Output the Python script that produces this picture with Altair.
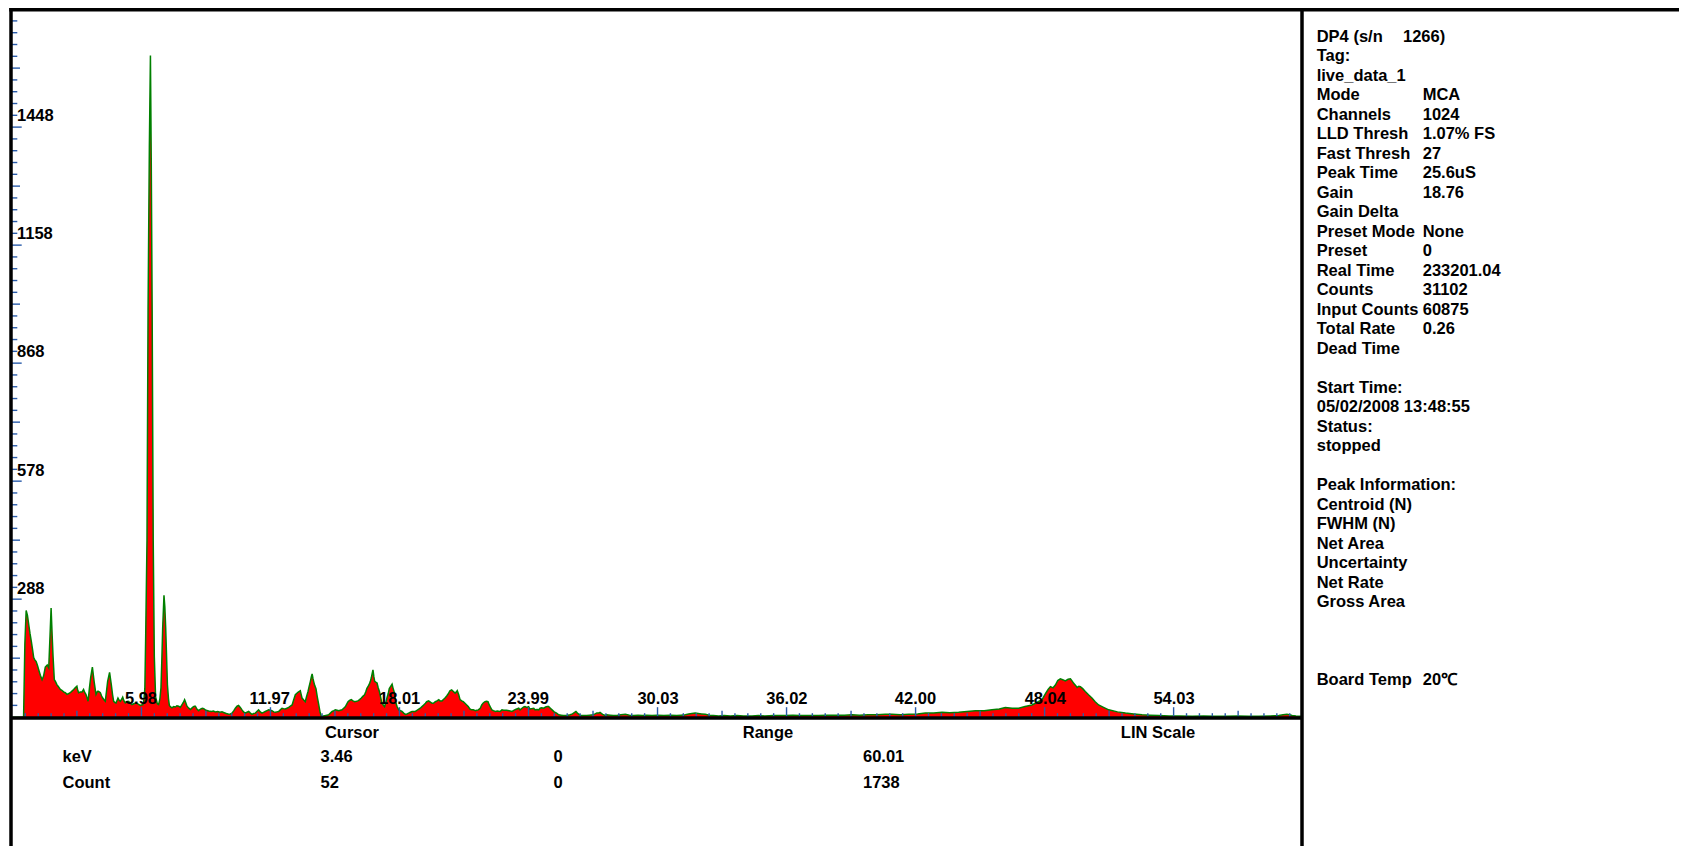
import altair as alt
import pandas as pd

# ---------------- spectrum (keV, counts) ----------------
kev = [0.00, 0.52, 0.58, 0.64, 0.70, 0.76, 0.82, 0.88, 0.94, 0.99, 1.05, 1.10, 1.16, 1.22, 1.30, 1.38, 1.45, 1.53, 1.62, 1.69,
       1.75, 1.80, 1.85, 1.89, 1.95, 2.00, 2.07, 2.15, 2.23, 2.30, 2.38, 2.46, 2.54, 2.62, 2.69, 2.77, 2.85, 2.92, 3.00, 3.04,
       3.08, 3.16, 3.24, 3.31, 3.37, 3.42, 3.47, 3.52, 3.58, 3.64, 3.72, 3.80, 3.86, 3.89, 3.94, 3.98, 4.04, 4.09, 4.15, 4.20,
       4.27, 4.32, 4.38, 4.43, 4.52, 4.60, 4.66, 4.71, 4.77, 4.82, 4.91, 4.96, 5.02, 5.08, 5.13, 5.19, 5.25, 5.33, 5.41, 5.48,
       5.56, 5.65, 5.75, 5.85, 5.95, 6.07, 6.12, 6.16, 6.20, 6.26, 6.31, 6.37, 6.42, 6.46, 6.50, 6.55, 6.60, 6.66, 6.74, 6.80,
       6.86, 6.91, 6.95, 6.99, 7.05, 7.09, 7.13, 7.17, 7.21, 7.26, 7.30, 7.36, 7.42, 7.50, 7.58, 7.65, 7.73, 7.81, 7.89, 7.95,
       8.01, 8.06, 8.12, 8.20, 8.28, 8.38, 8.46, 8.51, 8.58, 8.66, 8.75, 8.83, 8.90, 9.00, 9.13, 9.25, 9.35, 9.44, 9.55, 9.65,
       9.75, 9.85, 9.95, 10.06, 10.14, 10.21, 10.30, 10.37, 10.45, 10.52, 10.60, 10.68, 10.75, 10.83, 10.91, 10.99, 11.07, 11.14, 11.22, 11.30,
       11.37, 11.45, 11.53, 11.61, 11.68, 11.76, 11.84, 11.92, 12.00, 12.07, 12.15, 12.23, 12.30, 12.38, 12.46, 12.54, 12.61, 12.69, 12.77, 12.85,
       12.93, 13.01, 13.08, 13.16, 13.22, 13.28, 13.33, 13.39, 13.43, 13.47, 13.55, 13.62, 13.68, 13.75, 13.80, 13.86, 13.90, 13.94, 13.98, 14.01,
       14.06, 14.12, 14.18, 14.25, 14.31, 14.37, 14.46, 14.56, 14.63, 14.71, 14.79, 14.87, 14.95, 15.02, 15.10, 15.18, 15.25, 15.33, 15.41, 15.49,
       15.55, 15.61, 15.68, 15.76, 15.84, 15.92, 16.00, 16.07, 16.15, 16.23, 16.30, 16.38, 16.44, 16.49, 16.55, 16.60, 16.65, 16.69, 16.73, 16.77,
       16.81, 16.85, 16.90, 16.96, 17.01, 17.07, 17.13, 17.19, 17.25, 17.31, 17.37, 17.42, 17.48, 17.53, 17.60, 17.66, 17.70, 17.75, 17.80, 17.84,
       17.90, 17.97, 18.05, 18.12, 18.20, 18.28, 18.35, 18.43, 18.51, 18.59, 18.66, 18.74, 18.82, 18.90, 18.97, 19.05, 19.13, 19.21, 19.27, 19.36,
       19.44, 19.52, 19.58, 19.67, 19.75, 19.83, 19.89, 19.98, 20.06, 20.12, 20.20, 20.29, 20.35, 20.43, 20.51, 20.59, 20.65, 20.69, 20.76, 20.82,
       20.90, 20.97, 21.05, 21.13, 21.20, 21.28, 21.36, 21.44, 21.53, 21.60, 21.67, 21.76, 21.83, 21.90, 21.98, 22.05, 22.12, 22.18, 22.23, 22.30,
       22.37, 22.46, 22.55, 22.68, 22.77, 22.85, 22.99, 23.10, 23.24, 23.30, 23.40, 23.55, 23.61, 23.70, 23.78, 23.84, 23.92, 24.01, 24.07, 24.15,
       24.25, 24.31, 24.40, 24.48, 24.54, 24.62, 24.71, 24.80, 24.88, 24.94, 25.02, 25.10, 25.20, 25.31, 25.41, 25.52, 25.62, 25.72, 25.84, 25.94,
       26.05, 26.15, 26.21, 26.28, 26.35, 26.42, 26.55, 26.71, 26.85, 27.00, 27.10, 27.18, 27.27, 27.33, 27.45, 27.58, 27.64, 27.80, 27.95, 28.11,
       28.30, 28.51, 28.70, 28.90, 29.10, 29.30, 29.50, 29.75, 30.00, 30.30, 30.60, 30.90, 31.10, 31.30, 31.45, 31.60, 31.76, 31.90, 32.05, 32.23,
       32.40, 32.60, 32.85, 33.10, 33.40, 33.70, 34.00, 34.40, 34.70, 35.00, 35.40, 35.95, 36.30, 36.60, 37.00, 37.50, 37.90, 38.30, 38.70, 39.05,
       39.40, 39.80, 40.20, 40.60, 40.91, 41.30, 41.69, 42.10, 42.46, 42.85, 43.24, 43.60, 44.01, 44.40, 44.79, 45.20, 45.56, 45.90, 46.18, 46.50,
       46.80, 47.10, 47.42, 47.65, 47.89, 48.05, 48.17, 48.28, 48.40, 48.51, 48.62, 48.74, 48.85, 48.97, 49.10, 49.21, 49.30, 49.36, 49.45, 49.52,
       49.60, 49.67, 49.78, 49.90, 50.05, 50.21, 50.36, 50.52, 50.75, 50.99, 51.40, 51.77, 52.15, 52.54, 52.90, 53.32, 53.80, 54.30, 54.87, 55.40,
       55.90, 56.42, 57.00, 57.50, 57.97, 58.50, 58.90, 59.10, 59.28, 59.40, 59.52, 59.70, 59.98]
counts = [0, 0, 180, 262, 250, 227, 205, 186, 165, 146, 140, 137, 128, 117, 103, 92, 101, 123, 128, 121,
          200, 268, 200, 150, 92, 88, 80, 74, 68, 66, 62, 60, 56, 58, 60, 64, 68, 72, 76, 66,
          60, 62, 62, 68, 60, 56, 48, 39, 70, 97, 123, 88, 66, 56, 62, 64, 62, 60, 52, 47,
          42, 39, 65, 88, 110, 80, 55, 39, 36, 35, 47, 42, 39, 44, 49, 40, 35, 38, 39, 34,
          31, 33, 35, 32, 29, 31, 45, 70, 200, 433, 1000, 1400, 1624, 1350, 1000, 433, 150, 50, 33, 31,
          45, 72, 140, 219, 299, 270, 219, 150, 80, 45, 29, 25, 23, 26, 25, 28, 27, 24, 31, 36,
          43, 36, 27, 22, 19, 24, 27, 27, 20, 16, 20, 22, 21, 17, 15, 14, 15, 13, 14, 12,
          13, 11, 9, 7, 8, 10, 16, 22, 27, 29, 24, 18, 13, 10, 12, 14, 10, 7, 9, 10,
          14, 18, 13, 10, 12, 14, 16, 18, 17, 16, 13, 12, 13, 14, 18, 22, 21, 20, 22, 24,
          27, 30, 42, 55, 58, 61, 63, 65, 56, 47, 42, 38, 50, 63, 75, 88, 98, 106, 95, 88,
          78, 70, 50, 30, 12, 2, 3, 4, 5, 6, 10, 14, 16, 18, 17, 16, 17, 18, 22, 26,
          32, 38, 41, 43, 40, 38, 39, 40, 43, 47, 51, 55, 63, 71, 76, 81, 88, 96, 106, 116,
          100, 88, 86, 84, 73, 63, 48, 34, 30, 26, 36, 47, 58, 70, 76, 81, 72, 63, 48, 34,
          25, 18, 16, 14, 10, 7, 8, 10, 12, 14, 14, 14, 17, 20, 22, 26, 30, 34, 38, 40,
          37, 34, 34, 38, 40, 43, 40, 40, 44, 47, 52, 59, 65, 67, 63, 59, 62, 65, 55, 43,
          40, 38, 34, 30, 26, 20, 18, 18, 16, 17, 18, 22, 30, 35, 38, 39, 38, 30, 25, 18,
          16, 14, 15, 14, 18, 17, 17, 16, 14, 16, 19, 22, 18, 22, 25, 26, 24, 26, 20, 21,
          22, 18, 19, 18, 22, 23, 22, 25, 26, 26, 22, 18, 13, 10, 6, 5, 4, 4, 5, 6,
          8, 12, 14, 10, 7, 4, 4, 4, 5, 6, 8, 10, 10, 12, 7, 4, 6, 5, 4, 4,
          6, 7, 5, 4, 5, 4, 5, 4, 5, 4, 5, 4, 5, 6, 8, 9, 10, 9, 8, 7,
          5, 4, 3, 4, 3, 4, 3, 3, 4, 3, 4, 4, 5, 4, 4, 4, 5, 5, 5, 6,
          5, 6, 6, 7, 7, 6, 7, 8, 10, 10, 12, 11, 12, 14, 16, 16, 18, 20, 24, 22,
          22, 26, 30, 36, 43, 58, 68, 75, 72, 79, 90, 94, 92, 89, 93, 94, 88, 83, 78, 73,
          76, 75, 70, 63, 55, 47, 38, 30, 24, 18, 13, 10, 8, 6, 5, 4, 3, 3, 2, 3,
          2, 2, 3, 2, 2, 3, 4, 6, 7, 6, 4, 3, 2]

# axis labels drawn inside the plot
x_label_text = ["5.98", "11.97", "18.01", "23.99", "30.03", "36.02", "42.00", "48.04", "54.03"]
x_label_kev = [5.98, 11.97, 18.01, 23.99, 30.03, 36.02, 42.00, 48.04, 54.03]
y_label_vals = [288, 578, 868, 1158, 1448]

# instrument status panel
info_rows = [1, 2, 3, 4, 5, 6, 7, 8, 9, 10, 11, 12, 13, 14, 15, 16,
             18, 19, 20, 21, 23, 24, 25, 26, 27, 28, 29, 33]
info_labels = ["Tag:", "live_data_1", "Mode", "Channels", "LLD Thresh", "Fast Thresh", "Peak Time", "Gain",
               "Gain Delta", "Preset Mode", "Preset", "Real Time", "Counts", "Input Counts", "Total Rate", "Dead Time",
               "Start Time:", "05/02/2008 13:48:55", "Status:", "stopped", "Peak Information:", "Centroid (N)",
               "FWHM (N)", "Net Area", "Uncertainty", "Net Rate", "Gross Area", "Board Temp"]
info_values = ["", "", "MCA", "1024", "1.07% FS", "27", "25.6uS", "18.76",
               "", "None", "0", "233201.04", "31102", "60875", "0.26", "",
               "", "", "", "", "", "",
               "", "", "", "", "", "20\u2103"]
header_label = "DP4 (s/n"
header_value = "1266)"

# bottom readout panel
readout_names = ["keV", "Count"]
readout_cursor = ["3.46", "52"]
readout_mid = ["0", "0"]
readout_range = ["60.01", "1738"]
readout_headers = ["Cursor", "Range", "LIN Scale"]

# ---------------- layout (pixels inside the canvas; page origin is at 8,8) ----------------
FONT = "Liberation Sans"
FS = 16.5
BW = 3.5
W, H = 1671, 838
PX0, PX1 = 3, 1294          # plot left / right (frame lines)
PY0, PY1 = 1.75, 710        # plot top / bottom (frame lines)
X_DOM = [-0.065, 59.98]
Y_DOM = [-2, 1736]
TICK_COLOR = "#2a5caa"

xs = alt.Scale(domain=X_DOM, range=[PX0, PX1], nice=False, zero=False)
ys = alt.Scale(domain=Y_DOM, range=[PY1, PY0], nice=False, zero=False)
px_per_count = (PY1 - PY0) / (Y_DOM[1] - Y_DOM[0])
px_per_kev = (PX1 - PX0) / (X_DOM[1] - X_DOM[0])

spec_df = pd.DataFrame({"kev": kev, "count": counts})
area = alt.Chart(spec_df).mark_area(color="#ff0000", interpolate="linear").encode(
    x=alt.X("kev:Q", scale=xs, axis=None),
    y=alt.Y("count:Q", scale=ys, axis=None),
)
line = alt.Chart(spec_df).mark_line(color="#008000", strokeWidth=1.5, interpolate="linear").encode(
    x=alt.X("kev:Q", scale=xs, axis=None),
    y=alt.Y("count:Q", scale=ys, axis=None),
)

xt = []
for k in range(1, 100):
    ln = 10.0 if k % 10 == 0 else (6.5 if k % 5 == 0 else 4.0)
    xt.append({"kev": k * 60.01 / 100, "y0": 0.0, "y1": ln / px_per_count})
xt_df = pd.DataFrame(xt)
yt = []
for k in range(1, 60):
    ln = 10.7 if k % 10 == 0 else (9.0 if k % 5 == 0 else 6.3)
    yt.append({"val": k * 1448 / 50, "x0": X_DOM[0], "x1": X_DOM[0] + ln / px_per_kev})
yt_df = pd.DataFrame(yt)

xticks = alt.Chart(xt_df).mark_rule(color=TICK_COLOR, strokeWidth=1.4).encode(
    x=alt.X("kev:Q", scale=xs, axis=None),
    y=alt.Y("y0:Q", scale=ys, axis=None),
    y2=alt.Y2("y1:Q"),
)
yticks = alt.Chart(yt_df).mark_rule(color=TICK_COLOR, strokeWidth=1.4).encode(
    y=alt.Y("val:Q", scale=ys, axis=None),
    x=alt.X("x0:Q", scale=xs, axis=None),
    x2=alt.X2("x1:Q"),
)

xlab_df = pd.DataFrame({"kev": x_label_kev, "text": x_label_text, "y0": [0.0] * len(x_label_kev)})
xlabels = alt.Chart(xlab_df).mark_text(font=FONT, fontSize=FS, fontWeight="bold", color="black",
                                       align="center", baseline="middle", dy=-18.5).encode(
    x=alt.X("kev:Q", scale=xs, axis=None),
    y=alt.Y("y0:Q", scale=ys, axis=None),
    text=alt.Text("text:N"),
)
ylab_df = pd.DataFrame({"val": y_label_vals, "text": [str(v) for v in y_label_vals]})
ylabels = alt.Chart(ylab_df).mark_text(font=FONT, fontSize=FS, fontWeight="bold", color="black",
                                       align="left", baseline="middle", dy=-11).encode(
    x=alt.value(PX0 + 6),
    y=alt.Y("val:Q", scale=ys, axis=None),
    text=alt.Text("text:N"),
)

# ---------------- frame lines ----------------
one = pd.DataFrame({"a": [0]})


def hline(y, x0, x1):
    return alt.Chart(one).mark_rule(color="black", strokeWidth=BW).encode(
        x=alt.value(x0), x2=alt.value(x1), y=alt.value(y))


def vline(x, y0, y1):
    return alt.Chart(one).mark_rule(color="black", strokeWidth=BW).encode(
        x=alt.value(x), y=alt.value(y0), y2=alt.value(y1))


frame = [hline(PY0, PX0 - BW / 2, W), hline(PY1, PX0, PX1),
         vline(PX0, 0, H), vline(PX1, 0, H)]

# ---------------- bottom readout ----------------
HDR_ROW = -0.88
hdr_df = pd.DataFrame({"text": readout_headers, "pos": [344.0, 760.0, 1150.0], "row": [HDR_ROW] * 3})
rd_df = pd.DataFrame({"row": [0.0, 1.0], "name": readout_names, "cursor": readout_cursor,
                      "mid": readout_mid, "range": readout_range})
bx = alt.Scale(domain=[0, W], range=[0, W], nice=False, zero=False)
by = alt.Scale(domain=[HDR_ROW, 1], range=[725.3, 775.3], nice=False, zero=False)

headers = alt.Chart(hdr_df).mark_text(font=FONT, fontSize=FS, fontWeight="bold", color="black",
                                      align="center", baseline="middle").encode(
    x=alt.X("pos:Q", scale=bx, axis=None),
    y=alt.Y("row:Q", scale=by, axis=None),
    text=alt.Text("text:N"),
)


def readout_col(field, xpos):
    return alt.Chart(rd_df).mark_text(font=FONT, fontSize=FS, fontWeight="bold", color="black",
                                      align="left", baseline="middle").encode(
        x=alt.value(xpos),
        y=alt.Y("row:Q", scale=by, axis=None),
        text=alt.Text(f"{field}:N"),
    )


readouts = [readout_col("name", 54.5), readout_col("cursor", 312.5),
            readout_col("mid", 545.5), readout_col("range", 855)]

# ---------------- info panel ----------------
info_df = pd.DataFrame({"row": info_rows, "label": info_labels, "value": info_values})
val_df = info_df[info_df["value"] != ""]
iy = alt.Scale(domain=[0, 33], range=[28.7, 28.7 + 33 * 19.5], nice=False, zero=False)

info_lab = alt.Chart(info_df).mark_text(font=FONT, fontSize=FS, fontWeight="bold", color="black",
                                        align="left", baseline="middle").encode(
    x=alt.value(1308.7),
    y=alt.Y("row:Q", scale=iy, axis=None),
    text=alt.Text("label:N"),
)
info_val = alt.Chart(val_df).mark_text(font=FONT, fontSize=FS, fontWeight="bold", color="black",
                                       align="left", baseline="middle").encode(
    x=alt.value(1414.7),
    y=alt.Y("row:Q", scale=iy, axis=None),
    text=alt.Text("value:N"),
)
head_df = pd.DataFrame({"row": [0, 0], "text": [header_label, header_value], "pos": [1308.7, 1395.0]})
info_head = alt.Chart(head_df).mark_text(font=FONT, fontSize=FS, fontWeight="bold", color="black",
                                         align="left", baseline="middle").encode(
    x=alt.X("pos:Q", scale=bx, axis=None),
    y=alt.Y("row:Q", scale=iy, axis=None),
    text=alt.Text("text:N"),
)

chart = alt.layer(
    area, line, xticks, yticks, xlabels, ylabels,
    headers, *readouts, info_lab, info_val, info_head,
    *frame,
).resolve_scale(x="independent", y="independent").properties(
    width=W, height=H,
    autosize=alt.AutoSizeParams(type="none"),
    padding=0,
    background="white",
).configure_view(strokeWidth=0)

chart.save("out.html", embed_options={"renderer": "svg", "actions": False})
